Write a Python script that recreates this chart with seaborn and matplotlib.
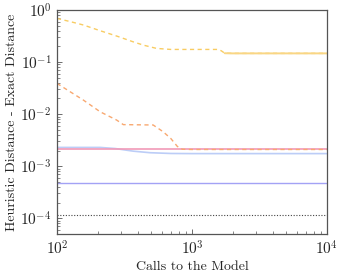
import pandas as pd
import matplotlib
matplotlib.use("Agg")
import matplotlib.pyplot as plt
import seaborn as sns

# Series (calls to the model vs. distance gap)
yellow_x = [100, 125, 157, 209, 277, 367, 436, 547, 698, 1000, 1550, 1650, 1750, 2000, 5000, 10000]
yellow_y = [0.69, 0.60, 0.515, 0.40, 0.316, 0.245, 0.212, 0.183, 0.175, 0.175, 0.175, 0.165, 0.148, 0.147, 0.147, 0.147]

yellow_solid_x = [1750, 2000, 5000, 10000]
yellow_solid_y = [0.148, 0.147, 0.147, 0.147]

orange_x = [100, 125, 157, 209, 277, 310, 516, 612, 698, 780, 850, 1000, 10000]
orange_y = [0.039, 0.027, 0.0186, 0.0111, 0.0077, 0.0063, 0.0062, 0.0046, 0.0034, 0.0024, 0.00212, 0.0021, 0.0021]

pink_x = [100, 10000]
pink_y = [0.00219, 0.00219]

blue_x = [100, 209, 270, 367, 489, 698, 1000, 10000]
blue_y = [0.0023, 0.0023, 0.00219, 0.00195, 0.00182, 0.00176, 0.00175, 0.00175]

purple_x = [100, 10000]
purple_y = [0.00047, 0.00047]

dotted_x = [100, 10000]
dotted_y = [0.000118, 0.000118]

sns.set_style("white")
plt.rcParams["font.family"] = "serif"
plt.rcParams["font.serif"] = ["cmr10", "DejaVu Serif"]
plt.rcParams["mathtext.fontset"] = "cm"
plt.rcParams["axes.formatter.use_mathtext"] = True

fig = plt.figure(figsize=(3.42, 2.75), dpi=100)
ax = fig.add_axes([0.1667, 0.149, 0.789, 0.8146])

def draw(x, y, color, ls, lw=0.9, alpha=1.0):
    df = pd.DataFrame({"calls": x, "dist": y})
    sns.lineplot(data=df, x="calls", y="dist", ax=ax, color=color,
                 linestyle=ls, linewidth=lw, alpha=alpha, estimator=None)

draw(dotted_x, dotted_y, "#444444", (0, (1, 1.5)), lw=0.8)
draw(purple_x, purple_y, "#a3a2f5", "-", lw=1.0)
draw(blue_x, blue_y, "#bccdf7", "-", lw=1.2)
draw(pink_x, pink_y, "#f19ab8", "-", lw=1.2)
draw(orange_x, orange_y, "#f8a870", (0, (3, 2.5)), lw=1.0)
draw(yellow_x, yellow_y, "#f8cc62", (0, (3, 2.5)), lw=1.0)
draw(yellow_solid_x, yellow_solid_y, "#f9d684", "-", lw=1.4)

ax.set_xscale("log")
ax.set_yscale("log")
ax.set_xlim(100, 10000)
ax.set_ylim(5e-5, 1)

ax.set_xlabel("Calls to the Model", fontsize=10)
ax.set_ylabel("Heuristic Distance - Exact Distance", fontsize=10)
ax.xaxis.set_label_coords(0.5, -0.118)
ax.yaxis.set_label_coords(-0.145, 0.5)

for s in ax.spines.values():
    s.set_color("#555555")
    s.set_linewidth(0.9)

ax.tick_params(which="both", direction="in", left=True, bottom=True,
               top=False, right=False, color="#555555", labelsize=11)
ax.tick_params(which="major", length=3.5, width=0.6, pad=4)
ax.tick_params(which="minor", length=2, width=0.5)

fig.savefig("out.png", dpi=100)
